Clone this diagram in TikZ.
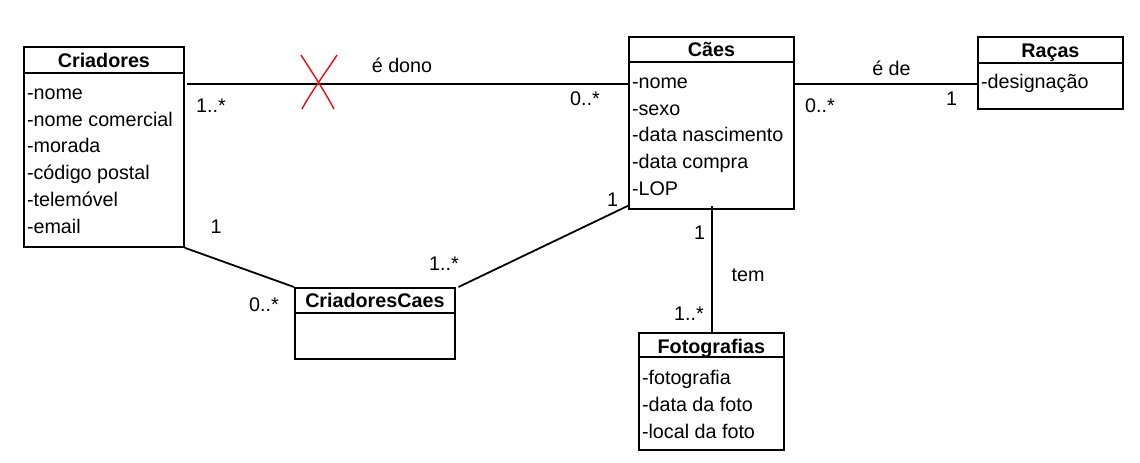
\documentclass[tikz,border=0pt]{standalone}
\usepackage{fontspec}
\setmainfont{Liberation Sans}
\tikzset{every picture/.style={line width=0.75pt}}

\begin{document}
\begin{tikzpicture}[x=0.75pt,y=0.75pt,yscale=-1,xscale=1,
    font=\fontsize{14.8}{18}\selectfont,
    classbox/.style={draw, line width=1.35pt, anchor=north west, inner sep=0pt},
    classname/.style={anchor=base, inner sep=0pt, font=\fontsize{14.8}{18}\selectfont\bfseries},
    attr/.style={anchor=base west, inner sep=0pt},
    mult/.style={anchor=base, inner sep=0pt},
    assoc/.style={line width=1.35pt}]
%set diagram left start at 0, and has height of 462
\useasboundingbox (0,0) rectangle (1140,462);

%Shape: Rectangle [Criadores]
\node [classbox, minimum width=120pt, minimum height=150pt] (criadores) at (23,46) {};
\draw [line width=1.35pt] (criadores.west |- 0,73) -- (criadores.east |- 0,73) ;
%Shape: Rectangle [Caes]
\node [classbox, minimum width=123.75pt, minimum height=129pt] (caes) at (628,36) {};
\draw [line width=1.35pt] (caes.west |- 0,62) -- (caes.east |- 0,62) ;
%Shape: Rectangle [Racas]
\node [classbox, minimum width=108.75pt, minimum height=54pt] (racas) at (977,36) {};
\draw [line width=1.35pt] (racas.west |- 0,63) -- (racas.east |- 0,63) ;
%Shape: Rectangle [CriadoresCaes]
\node [classbox, minimum width=120pt, minimum height=53.25pt] (cc) at (294,287) {};
\draw [line width=1.35pt] (cc.west |- 0,313) -- (cc.east |- 0,313) ;
%Shape: Rectangle [Fotografias]
\node [classbox, minimum width=108.75pt, minimum height=87.75pt] (foto) at (638,332) {};
\draw [line width=1.35pt] (foto.west |- 0,357) -- (foto.east |- 0,357) ;

% Text Node
\draw (criadores.north |- 0,67.5) node [classname] (criadoresT) {Criadores};
% Text Node
\draw (26.5,99.3) node [attr] (criadoresA) {-nome};
% Text Node
\draw (26.5,126.1) node [attr] (criadoresB) {-nome comercial};
% Text Node
\draw (26.5,152.9) node [attr] (criadoresC) {-morada};
% Text Node
\draw (26.5,179.7) node [attr] (criadoresD) {-código postal};
% Text Node
\draw (26.5,206.5) node [attr] (criadoresE) {-telemóvel};
% Text Node
\draw (26.5,233.3) node [attr] (criadoresF) {-email};

% Text Node
\draw (caes.north |- 0,56.7) node [classname] (caesT) {Cães};
% Text Node
\draw (631.5,88.3) node [attr] (caesA) {-nome};
% Text Node
\draw (631.5,115) node [attr] (caesB) {-sexo};
% Text Node
\draw (631.5,141.7) node [attr] (caesC) {-data nascimento};
% Text Node
\draw (631.5,168.4) node [attr] (caesD) {-data compra};
% Text Node
\draw (631.5,195.1) node [attr] (caesE) {-LOP};

% Text Node
\draw (racas.north |- 0,57) node [classname] (racasT) {Raças};
% Text Node
\draw (980.5,88.3) node [attr] (racasA) {-designação};

% Text Node
\draw (cc.north |- 0,307.5) node [classname] (ccT) {CriadoresCaes};

% Text Node
\draw (foto.north |- 0,353) node [classname] (fotoT) {Fotografias};
% Text Node
\draw (641.5,384.7) node [attr] (fotoA) {-fotografia};
% Text Node
\draw (641.5,411.4) node [attr] (fotoB) {-data da foto};
% Text Node
\draw (641.5,438.1) node [attr] (fotoC) {-local da foto};

%Straight Lines
\coordinate (donoY) at (0,84.3);
\draw [assoc, shorten <=2pt] (criadores.east |- donoY) -- (caes.west |- donoY) ;
%Straight Lines
\draw [assoc] (caes.east |- donoY) -- (racas.west |- donoY) ;
%Straight Lines
\draw [assoc] (criadores.south east) -- (cc.north west) ;
%Straight Lines
\draw [assoc] ([xshift=2pt]cc.north east) -- ([yshift=-3pt]caes.south west) ;
%Straight Lines
\draw [assoc] ([xshift=0.4pt,yshift=-3pt]caes.south) -- ([xshift=0.4pt]foto.north) ;

%Curve Lines
\draw [color={rgb, 255:red, 255; green, 0; blue, 0 }, line width=1pt] (301,55) .. controls (312,72) and (325,92) .. (334,109) ;
%Curve Lines
\draw [color={rgb, 255:red, 255; green, 0; blue, 0 }, line width=1pt] (337,55) .. controls (326,72) and (311,92) .. (302,109) ;

% Text Node
\draw (211,112) node [mult] (donoM1) {1..*};
% Text Node
\draw (402,72.7) node [mult] (donoL) {é dono};
% Text Node
\draw (585,105) node [mult] (donoM2) {0..*};
% Text Node
\draw (891.5,75) node [mult] (racaL) {é de};
% Text Node
\draw (820,112.7) node [mult] (racaM1) {0..*};
% Text Node
\draw (951.5,105) node [mult] (racaM2) {1};
% Text Node
\draw (216,233) node [mult] (ccM1) {1};
% Text Node
\draw (264,311.7) node [mult] (ccM2) {0..*};
% Text Node
\draw (444,270) node [mult] (ccM3) {1..*};
% Text Node
\draw (612.5,206.7) node [mult] (ccM4) {1};
% Text Node
\draw (699.5,239) node [mult] (temM1) {1};
% Text Node
\draw (748,281.7) node [mult] (temL) {tem};
% Text Node
\draw (689,320) node [mult] (temM2) {1..*};

\end{tikzpicture}
\end{document}
